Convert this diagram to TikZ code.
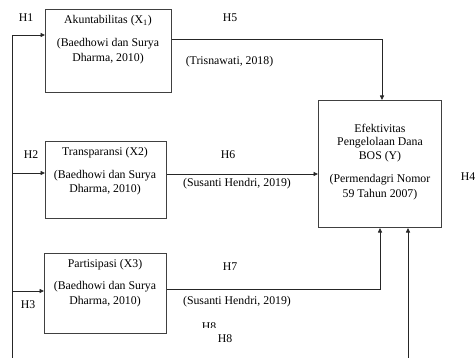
\documentclass[tikz,border=0pt]{standalone}
\usepackage{fontspec}
\setmainfont{Liberation Serif}
\usetikzlibrary{arrows.meta}
\begin{document}
\begin{tikzpicture}[x=1pt,y=-1pt,
  boxst/.style={draw=black!75,line width=1pt,inner sep=0pt,anchor=north west},
  txt/.style={font=\fontsize{11.8}{13}\selectfont,inner sep=0pt,anchor=center},
  conn/.style={draw=black!85,line width=0.8pt},
  arr/.style={conn,-{Triangle[length=4.5pt,width=4pt]}}]
\useasboundingbox (0,0) rectangle (476,358);
% boxes
\node[boxst,minimum width=126pt,minimum height=83pt] (x1) at (45,9) {};
\node[boxst,minimum width=121pt,minimum height=77pt] (x2) at (45,141) {};
\node[boxst,minimum width=122pt,minimum height=80pt] (x3) at (44,253) {};
\node[boxst,minimum width=123pt,minimum height=127pt] (y) at (318,100) {};
% box texts
\node[txt] (x1a) at (108,21) {Akuntabilitas (X\textsubscript{1})};
\node[txt] (x1b) at (108,44) {(Baedhowi dan Surya};
\node[txt] (x1c) at (108,59) {Dharma, 2010)};
\node[txt] (x2a) at (105,153) {Transparansi (X2)};
\node[txt] (x2b) at (105,176) {(Baedhowi dan Surya};
\node[txt] (x2c) at (105,190) {Dharma, 2010)};
\node[txt] (x3a) at (105,265) {Partisipasi (X3)};
\node[txt] (x3b) at (105,287) {(Baedhowi dan Surya};
\node[txt] (x3c) at (105,302) {Dharma, 2010)};
\node[txt] (ya) at (380,128) {Efektivitas};
\node[txt] (yb) at (380,143) {Pengelolaan Dana};
\node[txt] (yc) at (380,157) {BOS (Y)};
\node[txt] (yd) at (380,180) {(Permendagri Nomor};
\node[txt] (ye) at (380,195) {59 Tahun 2007)};
% labels
\node[txt] (h1) at (26,18) {H1};
\node[txt] (h2) at (31,155) {H2};
\node[txt] (h3) at (28,305) {H3};
\node[txt] (h4) at (468,177) {H4};
\node[txt] (h5) at (230,18) {H5};
\node[txt] (h6) at (228,155) {H6};
\node[txt] (h7) at (230,267) {H7};
\node[txt] (h8) at (225,339) {H8};
\begin{scope}
\clip (195,318) rectangle (225,327.5);
\node[txt] (h8c) at (209,326.5) {H8};
\end{scope}
\node[txt] (c5) at (229.5,62) {(Trisnawati, 2018)};
\node[txt] (c6) at (237,184) {(Susanti Hendri, 2019)};
\node[txt] (c7) at (237,302) {(Susanti Hendri, 2019)};
% coordinates
\coordinate (lb) at (12,358);
\coordinate (lt) at (12,35);
\coordinate (l2) at (12,173);
\coordinate (l3) at (12,291);
\coordinate (r1) at (382,39);
\coordinate (r3) at (380,289);
\coordinate (rb) at (408,358);
% connectors
\draw[arr] (lb) -- (lt) -- (lt -| x1.west);
\draw[arr] (l2) -- (l2 -| x2.west);
\draw[arr] (l3) -- (l3 -| x3.west);
\draw[arr] (x1.east |- r1) -- (r1) -- (r1 |- y.north);
\draw[arr] (x2.east |- 0,174) -- (y.west |- 0,174);
\draw[arr] (x3.east |- r3) -- (r3) -- (r3 |- y.south);
\draw[arr] (rb) -- (rb |- y.south);
\end{tikzpicture}
\end{document}
